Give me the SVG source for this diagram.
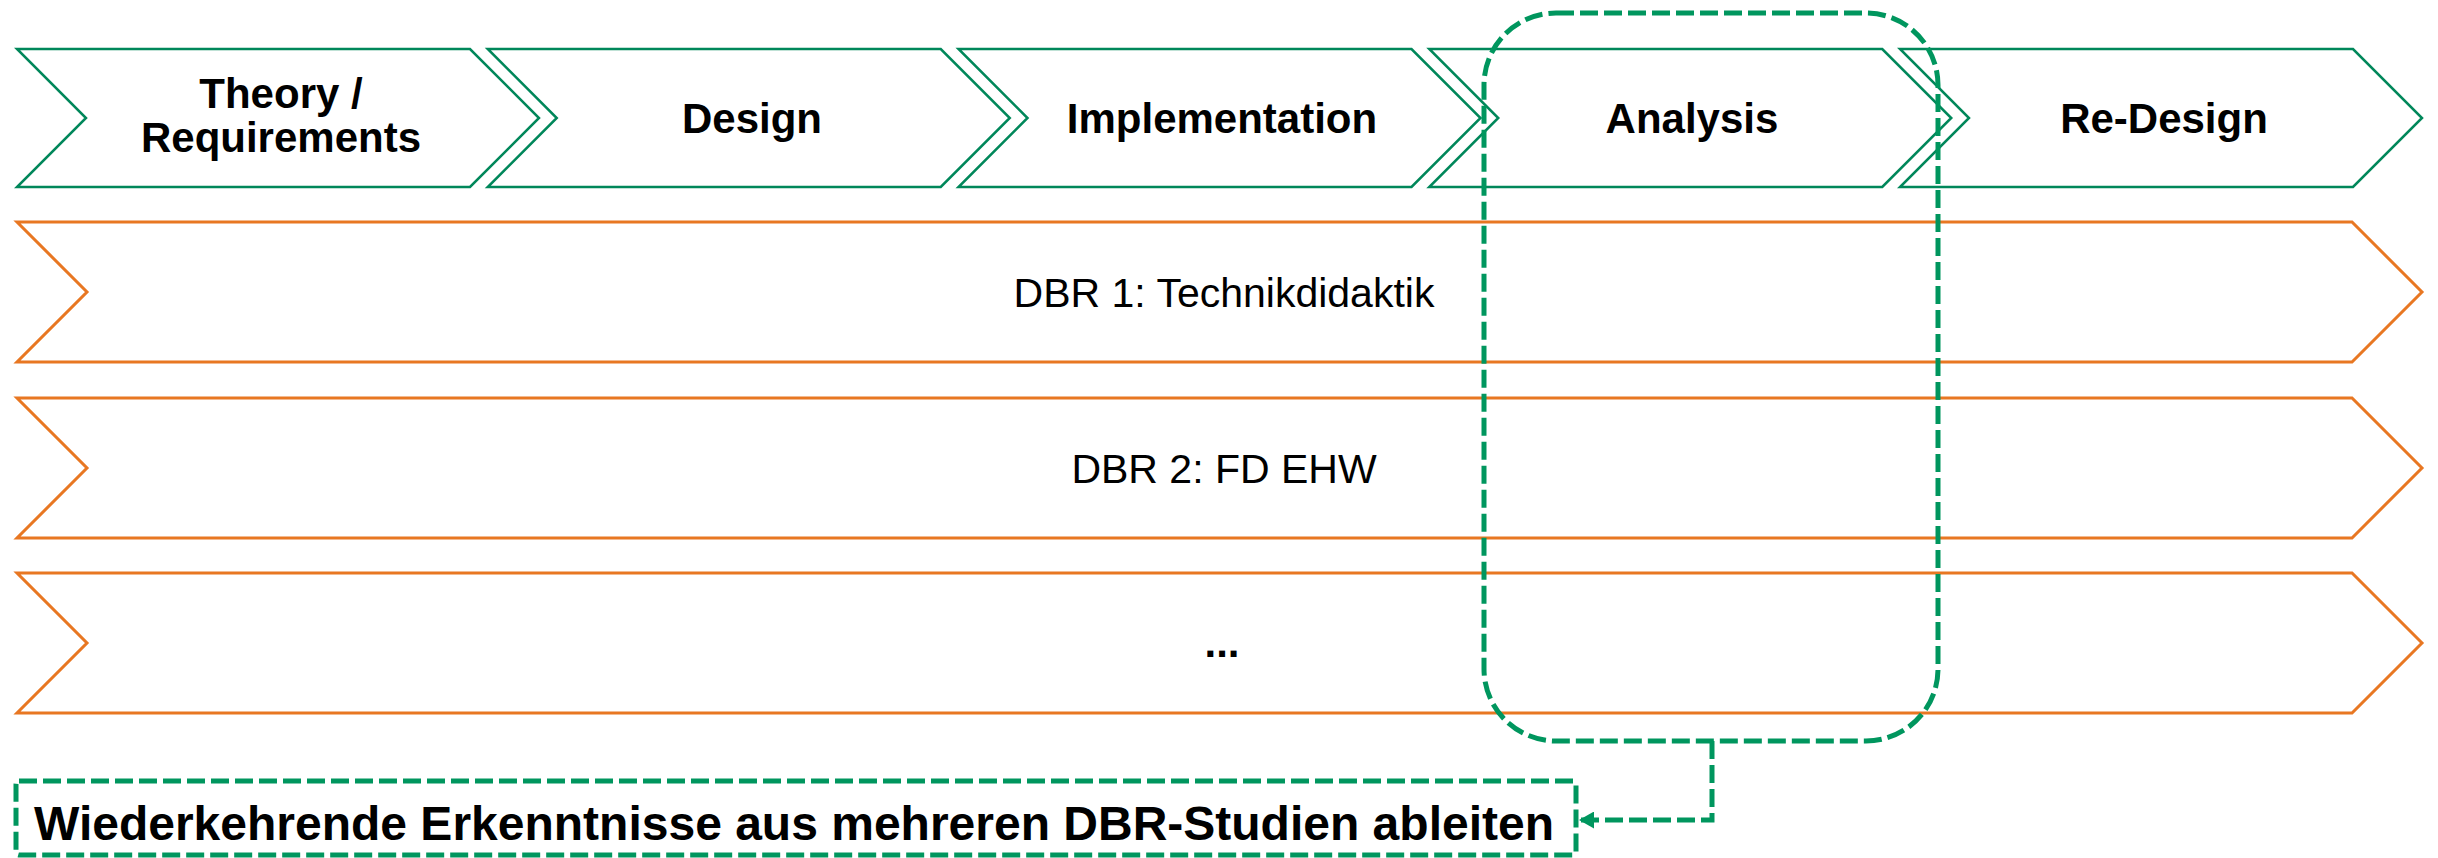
<svg xmlns="http://www.w3.org/2000/svg" width="2438" height="858" viewBox="0 0 2438 858">
<defs>
<style>
.g{fill:#fff;stroke:#00875A;stroke-width:2.5;stroke-linejoin:miter}
.o{fill:#fff;stroke:#E87722;stroke-width:3}
.hd{font-family:"Liberation Sans",Arial,sans-serif;font-weight:bold;font-size:42px;fill:#000;text-anchor:middle}
.rw{font-family:"Liberation Sans",Arial,sans-serif;font-size:41px;fill:#000;text-anchor:middle}
.dash{fill:none;stroke:#00965E;stroke-width:5;stroke-dasharray:18 6}
</style>
<marker id="ah" viewBox="0 0 15 17" refX="15" refY="8.5" markerWidth="15" markerHeight="17" orient="auto" markerUnits="userSpaceOnUse">
<path d="M0,0 L15,8.5 L0,17 Z" fill="#00965E"/>
</marker>
</defs>
<rect width="2438" height="858" fill="#fff"/>
<g id="phase-theory">
<polygon class="g" points="17,49 470,49 539,118 470,187 17,187 86,118"/>
<text class="hd" x="281" y="108">Theory /</text>
<text class="hd" x="281" y="152">Requirements</text>
</g>
<g id="phase-design">
<polygon class="g" points="487.75,49 940.75,49 1009.75,118 940.75,187 487.75,187 556.75,118"/>
<text class="hd" x="752" y="133">Design</text>
</g>
<g id="phase-implementation">
<polygon class="g" points="958.5,49 1411.5,49 1480.5,118 1411.5,187 958.5,187 1027.5,118"/>
<text class="hd" x="1222" y="133">Implementation</text>
</g>
<g id="phase-analysis">
<polygon class="g" points="1429.25,49 1882.25,49 1951.25,118 1882.25,187 1429.25,187 1498.25,118"/>
<text class="hd" x="1692" y="133">Analysis</text>
</g>
<g id="phase-redesign">
<polygon class="g" points="1900,49 2353,49 2422,118 2353,187 1900,187 1969,118"/>
<text class="hd" x="2164" y="133">Re-Design</text>
</g>
<g id="dbr1">
<polygon class="o" points="17,222 2352,222 2422,292 2352,362 17,362 87,292"/>
<text class="rw" x="1224" y="307">DBR 1: Technikdidaktik</text>
</g>
<g id="dbr2">
<polygon class="o" points="17,398 2352,398 2422,468 2352,538 17,538 87,468"/>
<text class="rw" x="1224" y="483">DBR 2: FD EHW</text>
</g>
<g id="dbr3">
<polygon class="o" points="17,573 2352,573 2422,643 2352,713 17,713 87,643"/>
<text class="hd" x="1222" y="657">...</text>
</g>
<g id="analysis-highlight">
<rect class="dash" x="1484" y="13" width="454" height="728" rx="72" ry="72"/>
</g>
<g id="conclusion">
<rect class="dash" x="16" y="781" width="1560" height="74" rx="3"/>
<text x="34" y="840" font-family="'Liberation Sans',Arial,sans-serif" font-weight="bold" font-size="48" fill="#000">Wiederkehrende Erkenntnisse aus mehreren DBR-Studien ableiten</text>
</g>
<g id="connectors">
<path class="dash" d="M1712,741 L1712,820 L1579,820" marker-end="url(#ah)"/>
</g>
</svg>
